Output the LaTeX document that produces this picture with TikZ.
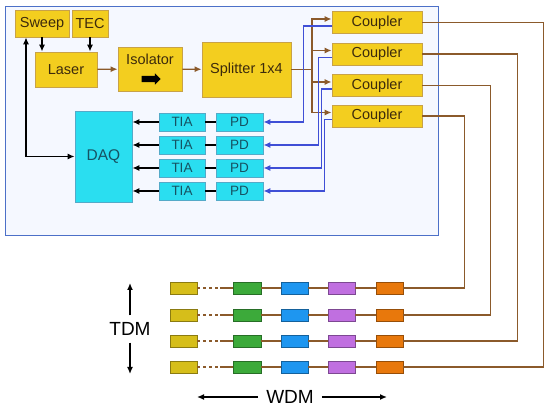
\documentclass[tikz,border=0pt]{standalone}
\usepackage{fontspec}
\setmainfont{Liberation Sans}
\usepackage{xcolor}
\usepackage{tikz}
\usetikzlibrary{shapes.geometric, shapes.arrows, arrows, arrows.meta, positioning, calc}
\definecolor{laseryellow}{RGB}{243, 206, 31}
\definecolor{yellowedge}{RGB}{200, 162, 72}
\definecolor{daqcyan}{RGB}{42, 222, 240}
\definecolor{cyanedge}{RGB}{84, 170, 200}
\definecolor{fiberbrown}{RGB}{139, 90, 43}
\definecolor{elecblue}{RGB}{63, 79, 214}
\definecolor{frameblue}{RGB}{76, 112, 200}
\definecolor{framefill}{RGB}{245, 248, 255}
\definecolor{boxtext}{RGB}{60, 42, 12}
\definecolor{cyantext}{RGB}{22, 82, 98}
\definecolor{gratolive}{RGB}{214, 190, 26}
\definecolor{gratgreen}{RGB}{60, 170, 58}
\definecolor{gratblue}{RGB}{30, 150, 240}
\definecolor{gratpurple}{RGB}{192, 111, 224}
\definecolor{gratorange}{RGB}{232, 120, 12}

\tikzset{
    >={Latex[length=7pt, width=6pt]},
    optbox/.style={fill=laseryellow, draw=yellowedge, line width=0.8pt, inner sep=0pt,
                   text=boxtext, font=\fontsize{14.5}{16}\selectfont},
    elbox/.style={fill=daqcyan, draw=cyanedge, line width=0.8pt, inner sep=0pt,
                  text=cyantext, font=\fontsize{13.5}{15}\selectfont},
    grating/.style={fill=#1, draw=#1!65!black, line width=0.6pt, inner sep=0pt,
                    minimum width=27pt, minimum height=12pt},
    fiber/.style={draw=fiberbrown, line width=1.3pt},
    wire/.style={draw=elecblue, line width=1.3pt},
    sig/.style={draw=black, line width=1.3pt},
    bigtext/.style={font=\fontsize{19}{22}\selectfont}
}

\begin{document}
\begin{tikzpicture}[x=1pt, y=-1pt]
    \fill[white] (0,0) rectangle (550,411);
    \useasboundingbox (0,0) rectangle (550,411);

    % interrogator unit
    \node[draw=frameblue, fill=framefill, line width=1pt, inner sep=0pt,
          minimum width=433pt, minimum height=229pt] (rig) at (221.5,121.5) {};

    \node[optbox, minimum width=54pt, minimum height=27pt] (sweep) at (42,23.5) {Sweep};
    \node[optbox, minimum width=36pt, minimum height=27pt] (tec) at (90,23.5) {TEC};
    \node[optbox, minimum width=62pt, minimum height=35pt] (laser) at (66,69.5) {Laser};
    \node[optbox, minimum width=64pt, minimum height=44pt] (iso) at (150,69) {};
    \node[text=boxtext, font=\fontsize{14.5}{16}\selectfont] (isolabel) at (150,59) {Isolator};
    \node[single arrow, fill=black, inner xsep=0pt, inner ysep=3pt, minimum height=19pt,
          minimum width=11pt, single arrow head extend=2.5pt,
          single arrow head indent=0pt] (isoarrow) at (149.5,79) {};
    \node[optbox, minimum width=89pt, minimum height=55pt] (split) at (246.5,69.5) {Splitter 1x4};

    \foreach \i/\y in {1/22.5, 2/54, 3/85.5, 4/116}
        \node[optbox, minimum width=90pt, minimum height=22pt] (cpl\i) at (377,\y) {Coupler};

    \node[elbox, minimum width=57pt, minimum height=91pt, font=\fontsize{15.5}{17}\selectfont] (daq) at (103.5,156.5) {DAQ};
    \foreach \i/\y in {1/122, 2/145, 3/168, 4/191} {
        \node[elbox, minimum width=46pt, minimum height=18pt] (tia\i) at (182,\y) {TIA};
        \node[elbox, minimum width=47pt, minimum height=18pt] (pd\i) at (239.5,\y) {PD};
    }

    % optical path
    \draw[fiber, ->] (laser) -- (iso);
    \draw[fiber, ->] (iso) -- (split);
    \coordinate (sj) at (312,69.5);
    \draw[fiber] (split) -- (sj);
    \foreach \i in {1,...,4}
        \draw[fiber, ->] (sj) |- ([yshift=3.5pt]cpl\i.west);

    % returns to detectors
    \foreach \i/\dx in {1/28, 2/13, 3/10, 4/7}
        \draw[wire, ->] ([yshift=-3.5pt]cpl\i.west) -- ++(-\dx,0) |- (pd\i.east);
    \foreach \i in {1,...,4} {
        \draw[sig] (pd\i) -- (tia\i);
        \draw[sig, ->] (tia\i.west) -- (tia\i.west -| daq.east);
    }

    % control
    \draw[sig, ->] (sweep.south) -- (sweep.south |- laser.north);
    \draw[sig, ->] (tec.south) -- (tec.south |- laser.north);
    \draw[sig, <->] ([xshift=-16pt]sweep.south) |- (daq.west);

    % sensor array
    \foreach \r/\y in {1/288, 2/315, 3/341, 4/367} {
        \node[grating=gratolive] (gy\r) at (183.5,\y) {};
        \node[grating=gratgreen, minimum width=28pt] (gg\r) at (247,\y) {};
        \node[grating=gratblue] (gb\r) at (294.5,\y) {};
        \node[grating=gratpurple] (gp\r) at (341.5,\y) {};
        \node[grating=gratorange] (go\r) at (389.5,\y) {};
        \draw[fiber, line width=1.1pt, dash pattern=on 3pt off 3pt] (gy\r.east) -- ++(23,0) coordinate (gd\r);
        \draw[fiber, line width=1.1pt] (gd\r) -- (gg\r.west);
        \draw[fiber, line width=1.1pt] (gg\r) -- (gb\r);
        \draw[fiber, line width=1.1pt] (gb\r) -- (gp\r);
        \draw[fiber, line width=1.1pt] (gp\r) -- (go\r);
    }
    \foreach \i/\dx/\r in {1/121/4, 2/95/3, 3/68/2, 4/42/1}
        \draw[fiber] (cpl\i.east) -- ++(\dx,0) |- (go\r.east);

    % multiplexing axes
    \node[bigtext, inner ysep=7pt] (tdm) at (130,329) {TDM};
    \coordinate (tdmtop) at (130,283);
    \coordinate (tdmbot) at (130,374);
    \draw[sig, ->] (tdm.north) -- (tdmtop);
    \draw[sig, ->] (tdm.south) -- (tdmbot);

    \node[bigtext, inner xsep=8pt] (wdm) at (290,397) {WDM};
    \coordinate (wdmleft) at (197,397);
    \coordinate (wdmright) at (387,397);
    \draw[sig, ->] (wdm.west) -- (wdmleft);
    \draw[sig, ->] (wdm.east) -- (wdmright);
\end{tikzpicture}
\end{document}
